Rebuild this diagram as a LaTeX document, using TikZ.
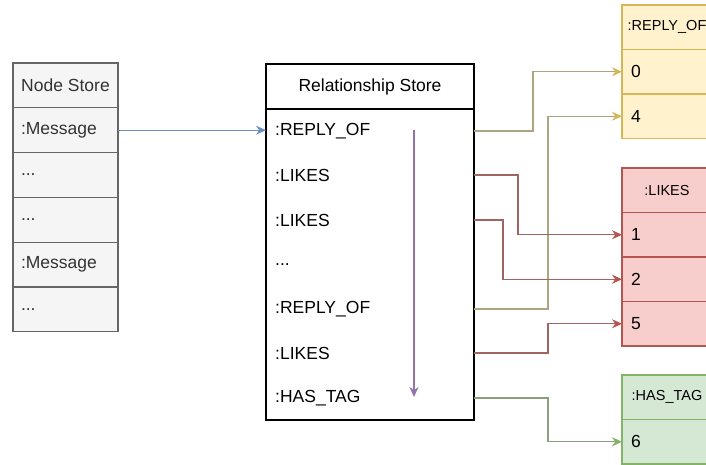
\documentclass[tikz,border=0pt]{standalone}
\usepackage{fontspec}
\setmainfont{Liberation Sans}
\usetikzlibrary{arrows.meta,positioning,calc}

\definecolor{storefill}{HTML}{F5F5F5}
\definecolor{storeedge}{HTML}{666666}
\definecolor{replyfill}{HTML}{FFF2CC}
\definecolor{replyedge}{HTML}{D6B656}
\definecolor{replyline}{HTML}{ADA57F}
\definecolor{likesfill}{HTML}{F8CECC}
\definecolor{likesedge}{HTML}{B85450}
\definecolor{likesline}{HTML}{A06562}
\definecolor{tagfill}{HTML}{D5E8D4}
\definecolor{tagedge}{HTML}{82B366}
\definecolor{tagline}{HTML}{8AA07E}
\definecolor{msgline}{HTML}{6C8EBF}
\definecolor{scanline}{HTML}{9673A6}

\tikzset{
  cell/.style={draw, rectangle, inner sep=0pt, outer sep=0pt, line width=1.1pt,
    font=\fontsize{17.5}{20}\selectfont},
  nscell/.style={cell, fill=storefill, draw=storeedge, text=black!80,
    minimum height=44.8pt, inner xsep=8pt, text width=89pt, align=left},
  nshead/.style={cell, fill=storefill, draw=storeedge, text=black!80,
    minimum height=44.8pt, minimum width=105pt},
  idcell/.style={cell, minimum height=44.5pt, inner xsep=9pt, text width=72pt, align=left},
  idhead/.style={cell, minimum height=44.5pt, minimum width=90pt,
    font=\fontsize{14.5}{17}\selectfont},
  reltype/.style={anchor=west, inner sep=0pt, font=\fontsize{17.5}{20}\selectfont},
  link/.style={line width=1.2pt},
  msgarrow/.style={link, draw=msgline, -{Stealth[length=10pt,width=9pt,color=msgline]}},
  replyarrow/.style={link, draw=replyline, -{Stealth[length=10pt,width=9pt,color=replyedge]}},
  likesarrow/.style={link, draw=likesline, -{Stealth[length=10pt,width=9pt,color=likesedge]}},
  tagarrow/.style={link, draw=tagline, -{Stealth[length=10pt,width=9pt,color=tagedge]}},
  scanarrow/.style={link, draw=scanline, -{Stealth[length=10pt,width=9pt,color=scanline]}}
}

\begin{document}
\begin{tikzpicture}[x=1pt,y=-1pt]
  \useasboundingbox (0,0) rectangle (706,464);
  \clip (0,0) rectangle (706,464);

  % node store
  \node[nshead, anchor=north west] (ns0) at (13,63) {Node Store};
  \node[nscell, below=0pt of ns0] (ns1) {:Message};
  \node[nscell, below=0pt of ns1] (ns2) {...};
  \node[nscell, below=0pt of ns2] (ns3) {...};
  \node[nscell, below=0pt of ns3] (ns4) {:Message};
  \node[nscell, below=0pt of ns4] (ns5) {...};

  % relationship store
  \node[cell, minimum width=208pt, minimum height=356pt, anchor=north west] (rs) at (266,64) {};
  \node[cell, minimum width=208pt, minimum height=45pt, anchor=north] (rshead) at (rs.north) {Relationship Store};
  \node[reltype] (r1) at (275,131) {:REPLY\_OF};
  \node[reltype] (r2) at (275,175) {:LIKES};
  \node[reltype] (r3) at (275,220) {:LIKES};
  \node[reltype] (r4) at (275,265) {...};
  \node[reltype] (r5) at (275,309) {:REPLY\_OF};
  \node[reltype] (r6) at (275,353) {:LIKES};
  \node[reltype] (r7) at (275,398) {:HAS\_TAG};
  \coordinate (scan0) at (414,130);
  \coordinate (scan1) at (414,397);

  % per type id lists
  \node[idhead, fill=replyfill, draw=replyedge, anchor=north west] (rphead) at (622,5) {:REPLY\_OF};
  \node[idcell, fill=replyfill, draw=replyedge, below=0pt of rphead] (rp0) {0};
  \node[idcell, fill=replyfill, draw=replyedge, below=0pt of rp0] (rp4) {4};

  \node[idhead, fill=likesfill, draw=likesedge, anchor=north west] (lkhead) at (622,168) {:LIKES};
  \node[idcell, fill=likesfill, draw=likesedge, below=0pt of lkhead] (lk1) {1};
  \node[idcell, fill=likesfill, draw=likesedge, below=0pt of lk1] (lk2) {2};
  \node[idcell, fill=likesfill, draw=likesedge, below=0pt of lk2] (lk5) {5};

  \node[idhead, fill=tagfill, draw=tagedge, anchor=north west] (tghead) at (622,375) {:HAS\_TAG};
  \node[idcell, fill=tagfill, draw=tagedge, below=0pt of tghead] (tg6) {6};

  % connectors
  \draw[msgarrow] (ns1.east) -- (rs.west |- ns1);
  \draw[scanarrow] (scan0) -- (scan1);
  \draw[replyarrow] (rs.east |- r1) -- ++(59,0) |- (rp0.west);
  \draw[replyarrow] (rs.east |- r5) -- ++(74,0) |- (rp4.west);
  \draw[likesarrow] (rs.east |- r2) -- ++(44,0) |- (lk1.west);
  \draw[likesarrow] (rs.east |- r3) -- ++(29,0) |- (lk2.west);
  \draw[likesarrow] (rs.east |- r6) -- ++(74,0) |- (lk5.west);
  \draw[tagarrow] (rs.east |- r7) -- ++(74,0) |- (tg6.west);
\end{tikzpicture}
\end{document}
